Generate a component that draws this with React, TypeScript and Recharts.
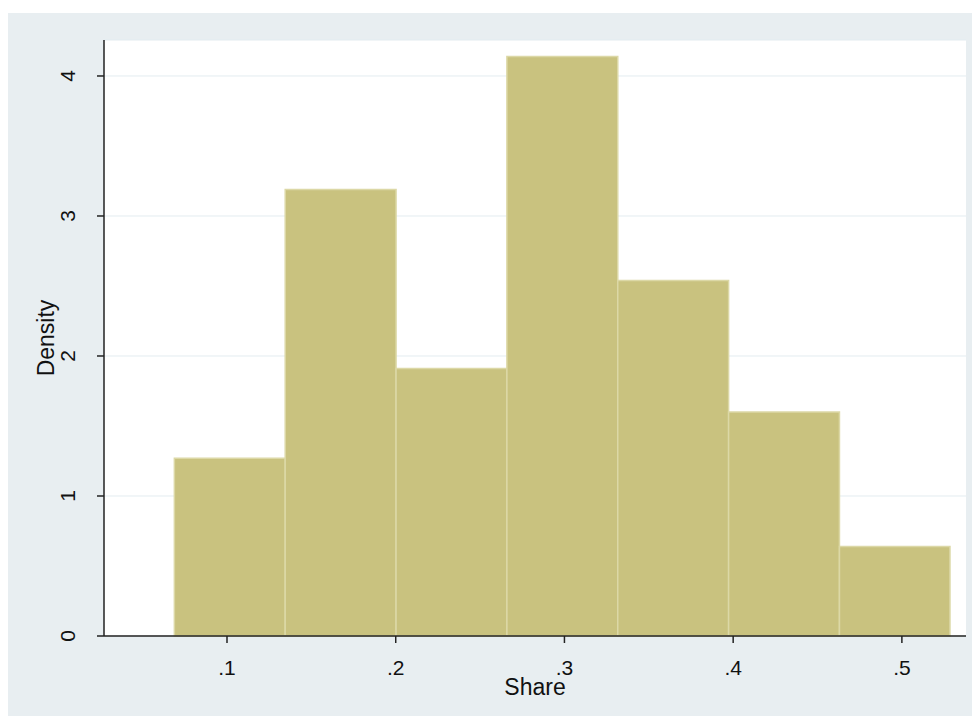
import { ComposedChart, Line, XAxis, YAxis, CartesianGrid, ReferenceArea } from 'recharts'

// histogram bins (left/right edges on Share) and their density
const binStart = [0.0688, 0.1345, 0.2002, 0.2659, 0.3316, 0.3973, 0.4630]
const binEnd = [0.1345, 0.2002, 0.2659, 0.3316, 0.3973, 0.4630, 0.5285]
const density = [1.27, 3.19, 1.91, 4.14, 2.54, 1.60, 0.64]

const xTicks = [0.1, 0.2, 0.3, 0.4, 0.5]
const xTickLabels = ['.1', '.2', '.3', '.4', '.5']
const yTicks = [0, 1, 2, 3, 4]

const FONT = '"Liberation Sans", Arial, sans-serif'
const BAR = '#c9c27f'
const BAR_EDGE = '#dcd8a6'

const data = binStart.map((s, i) => ({
  mid: (s + binEnd[i]) / 2,
  density: density[i],
}))

function XTick({ x, y, payload }: any) {
  const i = xTicks.indexOf(payload.value)
  return (
    <text x={x} y={y + 30} textAnchor="middle" fontSize={21} fontFamily={FONT} fill="#111">
      {i >= 0 ? xTickLabels[i] : payload.value}
    </text>
  )
}

function YTick({ x, y, payload }: any) {
  return (
    <text
      x={x - 20}
      y={y}
      textAnchor="middle"
      fontSize={21}
      fontFamily={FONT}
      fill="#111"
      transform={`rotate(-90, ${x - 20}, ${y})`}
    >
      {payload.value}
    </text>
  )
}

export default function App() {
  return (
    <div style={{ margin: -8, width: 980, height: 724, position: 'relative', background: '#fff' }}>
      <div style={{ position: 'absolute', left: 7, top: 13, right: 0, bottom: 0, background: '#e8eef1' }} />
      <div style={{ position: 'absolute', left: 0, top: 0 }}>
        <ComposedChart
          width={980}
          height={724}
          data={data}
          margin={{ top: 40, right: 14, bottom: 0, left: 0 }}
        >
          <CartesianGrid fill="#fff" stroke="#e3ecf0" vertical={false} />
          <XAxis
            type="number"
            dataKey="mid"
            domain={[0.0271, 0.538]}
            ticks={xTicks}
            tick={<XTick />}
            height={88}
            stroke="#222"
            strokeWidth={1.5}
            tickSize={7}
            allowDataOverflow
            label={({ viewBox }: any) => (
              <text
                x={viewBox.x + viewBox.width / 2}
                y={viewBox.y + 59}
                textAnchor="middle"
                fontSize={23}
                fontFamily={FONT}
                fill="#111"
              >
                Share
              </text>
            )}
          />
          <YAxis
            type="number"
            domain={[0, 4.257]}
            ticks={yTicks}
            tick={<YTick />}
            width={104}
            stroke="#222"
            strokeWidth={1.5}
            tickSize={7}
            allowDataOverflow
            label={({ viewBox }: any) => {
              const cy = viewBox.y + viewBox.height / 2
              return (
                <text
                  x={54}
                  y={cy}
                  textAnchor="middle"
                  fontSize={23}
                  fontFamily={FONT}
                  fill="#111"
                  transform={`rotate(-90, 54, ${cy})`}
                >
                  Density
                </text>
              )
            }}
          />
          {binStart.map((s, i) => (
            <ReferenceArea
              key={i}
              x1={s}
              x2={binEnd[i]}
              y1={0}
              y2={density[i]}
              fill={BAR}
              fillOpacity={1}
              stroke={BAR_EDGE}
              strokeWidth={1.5}
              strokeOpacity={1}
            />
          ))}
          <Line dataKey="density" stroke="none" dot={false} activeDot={false} isAnimationActive={false} />
        </ComposedChart>
      </div>
    </div>
  )
}
